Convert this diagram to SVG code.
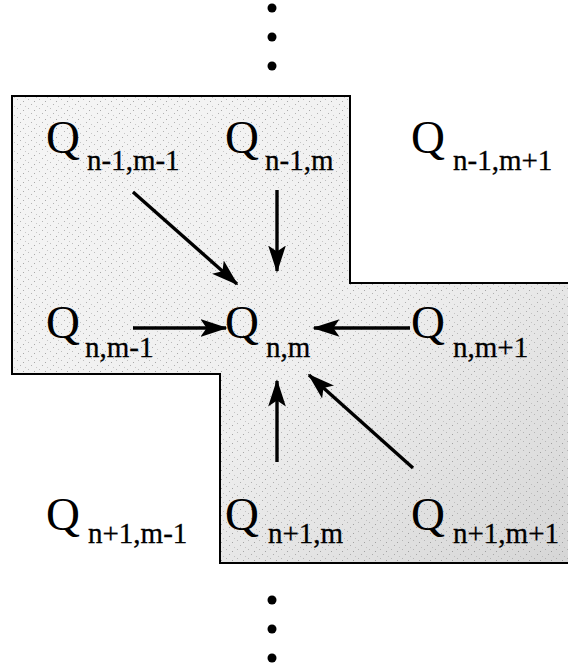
<svg xmlns="http://www.w3.org/2000/svg" width="568" height="672" viewBox="0 0 568 672">
<style>
.q{font-family:"Liberation Serif","Times New Roman",serif;font-size:47px;fill:#000}
.s{font-family:"Liberation Serif","Times New Roman",serif;font-size:29px;fill:#000;stroke:#000;stroke-width:0.3}
.ar{stroke:#000;stroke-width:3.4;fill:none;marker-end:url(#ah)}
.dot{fill:#000}
</style>
<defs>
<marker id="ah" markerWidth="8" markerHeight="6" refX="7.5" refY="3" orient="auto" markerUnits="strokeWidth">
<path d="M0,0.4 L8,3 L0,5.6 L1.8,3 Z" fill="#000"/>
</marker>
<linearGradient id="g" x1="0" y1="0" x2="1" y2="1">
<stop offset="0" stop-color="#f5f5f5"/>
<stop offset="0.55" stop-color="#efefef"/>
<stop offset="1" stop-color="#d6d6d6"/>
</linearGradient>
<pattern id="st" width="11" height="9" patternUnits="userSpaceOnUse">
<rect x="1" y="2" width="1" height="1" fill="#777"/>
<rect x="6" y="0" width="1" height="1" fill="#999"/>
<rect x="9" y="5" width="1" height="1" fill="#888"/>
<rect x="3" y="7" width="1" height="1" fill="#aaa"/>
</pattern>
</defs>
<g id="region">
<polygon points="12,96 350,96 350,283 568,283 568,563 220,563 220,374 12,374" fill="url(#g)"/>
<polygon points="12,96 350,96 350,283 568,283 568,563 220,563 220,374 12,374" fill="url(#st)" opacity="0.6"/>
<path d="M568,283 L350,283 L350,96 L12,96 L12,374 L220,374 L220,563 L568,563" fill="none" stroke="#000" stroke-width="2"/>
</g>
<g id="dots-top">
<circle class="dot" cx="272" cy="8" r="4.5"/>
<circle class="dot" cx="272" cy="37" r="4.5"/>
<circle class="dot" cx="272" cy="66" r="4.5"/>
</g>
<g id="dots-bottom">
<circle class="dot" cx="272" cy="600" r="4.5"/>
<circle class="dot" cx="272" cy="629" r="4.5"/>
<circle class="dot" cx="272" cy="658" r="4.5"/>
</g>
<g id="q-n-1-m-1"><text class="q" x="46" y="153">Q</text><text class="s" x="87" y="170">n-1,m-1</text></g>
<g id="q-n-1-m"><text class="q" x="225" y="153">Q</text><text class="s" x="265" y="170">n-1,m</text></g>
<g id="q-n-1-m+1"><text class="q" x="411" y="153">Q</text><text class="s" x="453" y="170">n-1,m+1</text></g>
<g id="q-n-m-1"><text class="q" x="46" y="338">Q</text><text class="s" x="85" y="357">n,m-1</text></g>
<g id="q-n-m"><text class="q" x="225" y="338">Q</text><text class="s" x="266" y="357">n,m</text></g>
<g id="q-n-m+1"><text class="q" x="411" y="338">Q</text><text class="s" x="453" y="357">n,m+1</text></g>
<g id="q-n+1-m-1"><text class="q" x="46" y="530">Q</text><text class="s" x="88" y="543">n+1,m-1</text></g>
<g id="q-n+1-m"><text class="q" x="225" y="530">Q</text><text class="s" x="268" y="543">n+1,m</text></g>
<g id="q-n+1-m+1"><text class="q" x="411" y="530">Q</text><text class="s" x="453" y="543">n+1,m+1</text></g>
<g id="connectors">
<line class="ar" x1="133" y1="192" x2="237" y2="284"/>
<line class="ar" x1="277" y1="190" x2="277" y2="271"/>
<line class="ar" x1="133" y1="328" x2="226" y2="328"/>
<line class="ar" x1="410" y1="328" x2="314" y2="328"/>
<line class="ar" x1="277" y1="462" x2="277" y2="381"/>
<line class="ar" x1="413" y1="468" x2="309" y2="375"/>
</g>
</svg>
